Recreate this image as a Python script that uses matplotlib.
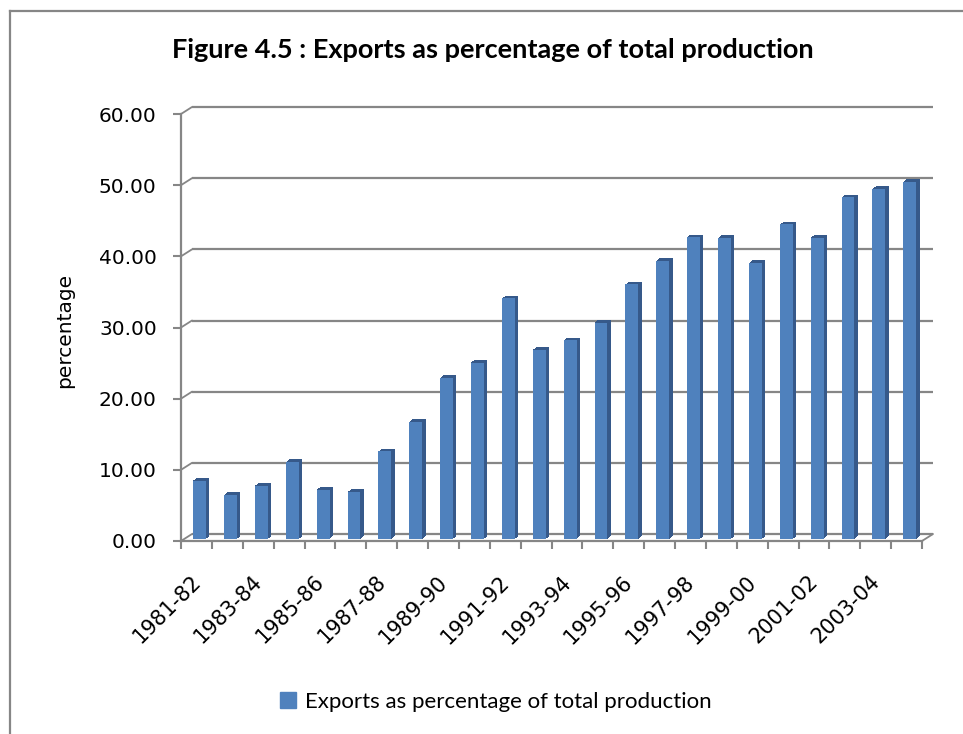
import matplotlib
matplotlib.use('Agg')
import matplotlib.pyplot as plt
import matplotlib.patches as mpatches
from matplotlib.transforms import offset_copy, ScaledTranslation
import numpy as np

years = ['1981-82', '1982-83', '1983-84', '1984-85', '1985-86', '1986-87',
         '1987-88', '1988-89', '1989-90', '1990-91', '1991-92', '1992-93',
         '1993-94', '1994-95', '1995-96', '1996-97', '1997-98', '1998-99',
         '1999-00', '2000-01', '2001-02', '2002-03', '2003-04', '2004-05']
exports_pct = [8.2, 6.2, 7.5, 10.8, 6.9, 6.6, 12.3, 16.5, 22.6, 24.8, 33.8, 26.6,
               27.9, 30.4, 35.8, 39.1, 42.4, 42.3, 38.8, 44.2, 42.3, 48.0, 49.2, 50.2]
yticks = [0, 10, 20, 30, 40, 50, 60]

grey = '#868686'
front = '#4f81bd'
side = '#36598a'

fig = plt.figure(figsize=(9.63, 7.34), dpi=100)
ax = fig.add_axes([181/963, 1-541/734, 741/963, 427/734])
ax.set_xlim(-0.5, len(years) - 0.5)
ax.set_ylim(0, 60)

x = np.arange(len(years))

# back wall gridlines, pushed back by the depth offset
back = offset_copy(ax.transData, fig=fig, x=11, y=7, units='dots')
ax.hlines(yticks, -0.5, len(years) - 0.5, color=grey, lw=1.6,
          transform=back, clip_on=False, zorder=1)
for v in yticks:
    ax.annotate('', xy=(-0.5, v), xytext=(11, 7), textcoords='offset pixels',
                arrowprops=dict(arrowstyle='-', color=grey, lw=1.3,
                                shrinkA=0, shrinkB=0), annotation_clip=False)
ax.annotate('', xy=(len(years) - 0.5, 0), xytext=(11, 7), textcoords='offset pixels',
            arrowprops=dict(arrowstyle='-', color=grey, lw=1.3,
                            shrinkA=0, shrinkB=0), annotation_clip=False)

# 3d-ish columns: dark extrusion then front face
w = 0.42
for k in np.arange(6.5, 3.0, -0.5):
    tr = offset_copy(ax.transData, fig=fig, x=k, y=k * 0.8 - 0.5, units='dots')
    ax.bar(x, exports_pct, w, color=side, transform=tr, zorder=2, clip_on=False)
tr = offset_copy(ax.transData, fig=fig, x=3.2, y=2, units='dots')
ax.bar(x, exports_pct, w, color=front, transform=tr, zorder=3, clip_on=False)

for s in ['top', 'right']:
    ax.spines[s].set_visible(False)
for s in ['left', 'bottom']:
    ax.spines[s].set_color(grey)
    ax.spines[s].set_linewidth(1.6)

ax.set_yticks(yticks)
ax.set_yticklabels(['%.2f' % v for v in yticks])
ax.tick_params(axis='y', direction='out', length=5.5, width=1.5, color=grey,
               pad=12, labelsize=14.5, labelcolor='black')

ax.set_xticks(np.arange(-0.5, len(years), 1.0))
ax.set_xticklabels([])
ax.tick_params(axis='x', which='major', direction='out', length=5.5, width=1.5, color=grey)
ax.set_xticks(x[::2], minor=True)
ax.set_xticklabels(years[::2], minor=True)
ax.tick_params(axis='x', which='minor', length=0, pad=22, labelsize=15)
shift = ScaledTranslation(-6/100, 0, fig.dpi_scale_trans)
for lbl in ax.get_xticklabels(minor=True):
    lbl.set_rotation(45)
    lbl.set_ha('right')
    lbl.set_rotation_mode('anchor')
    lbl.set_transform(lbl.get_transform() + shift)

fig.text(65/963, 1-330/734, 'percentage', rotation=90, ha='center', va='center',
         fontsize=14.5)
fig.text(493/963, 1-58/734, 'Figure 4.5 : Exports as percentage of total production',
         ha='center', va='baseline', fontsize=19.5, fontweight='bold', family='Lato')

handle = mpatches.Patch(color=front, label='Exports as percentage of total production')
fig.legend(handles=[handle], loc='center', bbox_to_anchor=(496/963, 1-702/734),
           frameon=False, handlelength=0.7, handleheight=0.7, handletextpad=0.4,
           prop={'family': 'Lato', 'size': 16})

# outer chart frame (only top and left visible in the crop)
fig.add_artist(plt.Line2D([10/963, 10/963], [0, 1-11/734], color=grey, lw=1.6))
fig.add_artist(plt.Line2D([10/963, 1], [1-11/734, 1-11/734], color=grey, lw=1.6))

plt.savefig('out.png', dpi=100)
